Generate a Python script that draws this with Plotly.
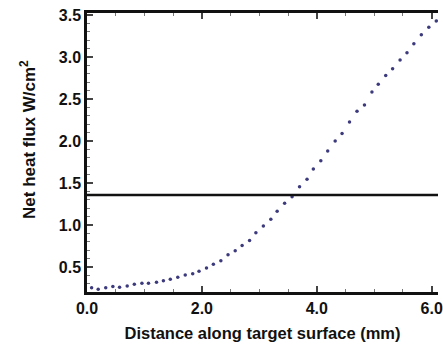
import plotly.graph_objects as go

# Data
distance_mm = [0.08, 0.195, 0.326, 0.45, 0.567, 0.70, 0.824, 0.956, 1.07, 1.21,
               1.33, 1.45, 1.58, 1.71, 1.84, 1.95, 2.08, 2.20, 2.33, 2.455,
               2.58, 2.70, 2.83, 2.94, 3.07, 3.20, 3.31, 3.44, 3.57, 3.70,
               3.83, 3.94, 4.07, 4.19, 4.32, 4.44, 4.57, 4.70, 4.83, 4.96,
               5.07, 5.20, 5.32, 5.45, 5.57, 5.69, 5.82, 5.95, 6.08]
heat_flux = [0.254, 0.234, 0.254, 0.266, 0.258, 0.274, 0.294, 0.306, 0.306, 0.318,
             0.337, 0.354, 0.377, 0.405, 0.42, 0.448, 0.488, 0.532, 0.575, 0.646,
             0.694, 0.756, 0.815, 0.908, 0.988, 1.068, 1.163, 1.258, 1.337, 1.456,
             1.544, 1.667, 1.765, 1.88, 2.0, 2.09, 2.226, 2.355, 2.43, 2.583,
             2.675, 2.78, 2.86, 2.964, 3.05, 3.158, 3.265, 3.353, 3.43]
threshold = 1.357
x_ticks = [0.0, 2.0, 4.0, 6.0]
x_tick_labels = ["0.0", "2.0", "4.0", "6.0"]
y_ticks = [0.5, 1.0, 1.5, 2.0, 2.5, 3.0, 3.5]
y_tick_labels = ["0.5", "1.0", "1.5", "2.0", "2.5", "3.0", "3.5"]
x_range = [0.0, 6.11]
y_range = [0.202, 3.524]

FONT = "Liberation Sans, Arial, Helvetica, sans-serif"

fig = go.Figure()
fig.add_trace(go.Scatter(
    x=distance_mm, y=heat_flux, mode="markers",
    marker=dict(size=3.5, color="#3c3a7c"),
    showlegend=False, hoverinfo="skip",
))
fig.add_trace(go.Scatter(
    x=x_range, y=[threshold, threshold], mode="lines",
    line=dict(color="#111111", width=2.5),
    showlegend=False, hoverinfo="skip",
))

fig.update_layout(
    width=443, height=349,
    margin=dict(l=87, r=0, t=13, b=57),
    paper_bgcolor="white", plot_bgcolor="white",
    font=dict(family=FONT, color="#111111"),
    annotations=[dict(
        text="Net heat flux W/cm<sup>2</sup>", textangle=-90,
        xref="paper", yref="paper", x=-0.168, y=0.545,
        xanchor="center", yanchor="middle", showarrow=False,
        font=dict(family=FONT, size=17, weight="bold", color="#111111"),
    )],
)
fig.update_xaxes(
    range=x_range, tickmode="array", tickvals=x_ticks, ticktext=x_tick_labels,
    ticks="inside", ticklen=6, tickwidth=1.5, tickcolor="#444444",
    minor=dict(dtick=0.5, ticks="inside", ticklen=3, tickwidth=1, tickcolor="#777777"),
    showline=True, linecolor="#111111", linewidth=2.5, mirror="ticks",
    showgrid=False, zeroline=False, ticklabeloverflow="allow",
    tickfont=dict(family=FONT, size=16, weight="bold", color="#111111"),
    title=dict(text="Distance along target surface (mm)",
               font=dict(family=FONT, size=16.5, weight="bold", color="#111111"),
               standoff=12),
)
fig.update_yaxes(
    range=y_range, tickmode="array", tickvals=y_ticks, ticktext=y_tick_labels,
    ticks="inside", ticklen=6, tickwidth=1.5, tickcolor="#444444",
    minor=dict(dtick=0.1, tick0=0, ticks="inside", ticklen=3.5, tickwidth=1, tickcolor="#777777"),
    showline=True, linecolor="#111111", linewidth=2.5, mirror=False,
    showgrid=False, zeroline=False,
    tickfont=dict(family=FONT, size=16, weight="bold", color="#111111"),
)

fig.write_html("out.html")
